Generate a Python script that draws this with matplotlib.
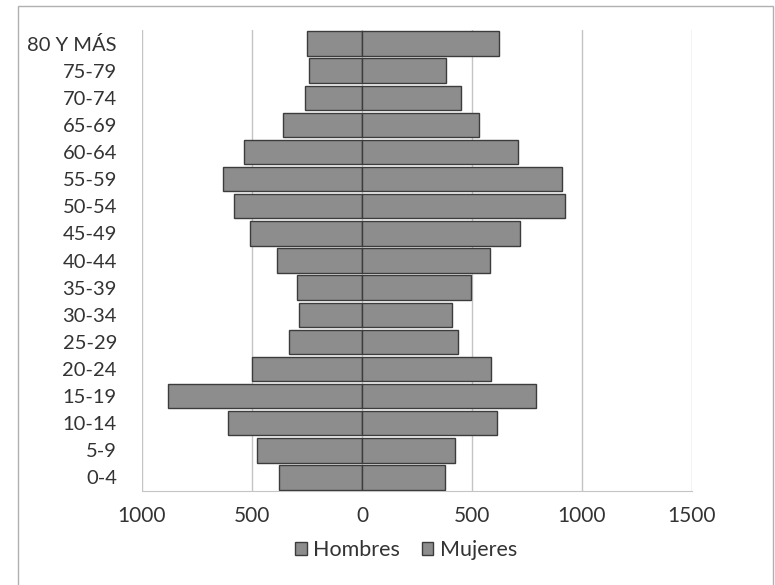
import numpy as np
import matplotlib
matplotlib.use("Agg")
import matplotlib.pyplot as plt
from matplotlib.patches import Rectangle

# grupos de edad (de abajo hacia arriba)
grupos = ["0-4", "5-9", "10-14", "15-19", "20-24", "25-29", "30-34", "35-39",
          "40-44", "45-49", "50-54", "55-59", "60-64", "65-69", "70-74",
          "75-79", "80 Y MÁS"]
hombres = [377, 477, 609, 882, 500, 332, 286, 295, 386, 509, 582, 632, 536,
           359, 259, 241, 250]
mujeres = [377, 421, 612, 791, 586, 438, 411, 494, 583, 720, 925, 910, 708,
           530, 449, 384, 621]
ticks_x = [-1000, -500, 0, 500, 1000, 1500]
etiquetas_x = ["1000", "500", "0", "500", "1000", "1500"]

plt.rcParams['font.family'] = ['Lato', 'DejaVu Sans']

fig = plt.figure(figsize=(7.75, 5.85), dpi=100)
ax = fig.add_axes([0.1832, 0.1607, 0.7097, 0.788])

y = np.arange(len(grupos))
gris = "#8d8d8d"
borde = "#3c3c3c"
ax.barh(y, -np.array(hombres), height=0.9, color=gris, edgecolor=borde,
        linewidth=1.0, label="Hombres", zorder=3)
ax.barh(y, mujeres, height=0.9, color=gris, edgecolor=borde,
        linewidth=1.0, label="Mujeres", zorder=3)

ax.set_xlim(-1000, 1500)
ax.set_ylim(-0.5, len(grupos) - 0.5)
ax.set_xticks(ticks_x)
ax.set_xticklabels(etiquetas_x, fontsize=15, color="#333333")
ax.set_yticks(y)
ax.set_yticklabels(grupos, fontsize=14.5, color="#333333")
ax.tick_params(axis="x", length=0, pad=11)
ax.tick_params(axis="y", length=0, pad=18)

ax.grid(axis="x", color="#c4c4c4", linewidth=1.0, zorder=0)
for lado in ["top", "right", "left"]:
    ax.spines[lado].set_visible(False)
ax.spines["bottom"].set_color("#c4c4c4")

leg = ax.legend(loc="upper center", bbox_to_anchor=(0.48, -0.065), ncol=2,
                frameon=False, fontsize=15.5, handlelength=0.55,
                handleheight=0.55, columnspacing=1.0, handletextpad=0.3)
for t in leg.get_texts():
    t.set_color("#333333")

# marco del área del gráfico
fig.patches.append(Rectangle((0.023, -0.01), 0.975, 1.0, transform=fig.transFigure,
                             fill=False, edgecolor="#b0b0b0", linewidth=1.0))

fig.savefig("out.png", dpi=100, facecolor="white")
